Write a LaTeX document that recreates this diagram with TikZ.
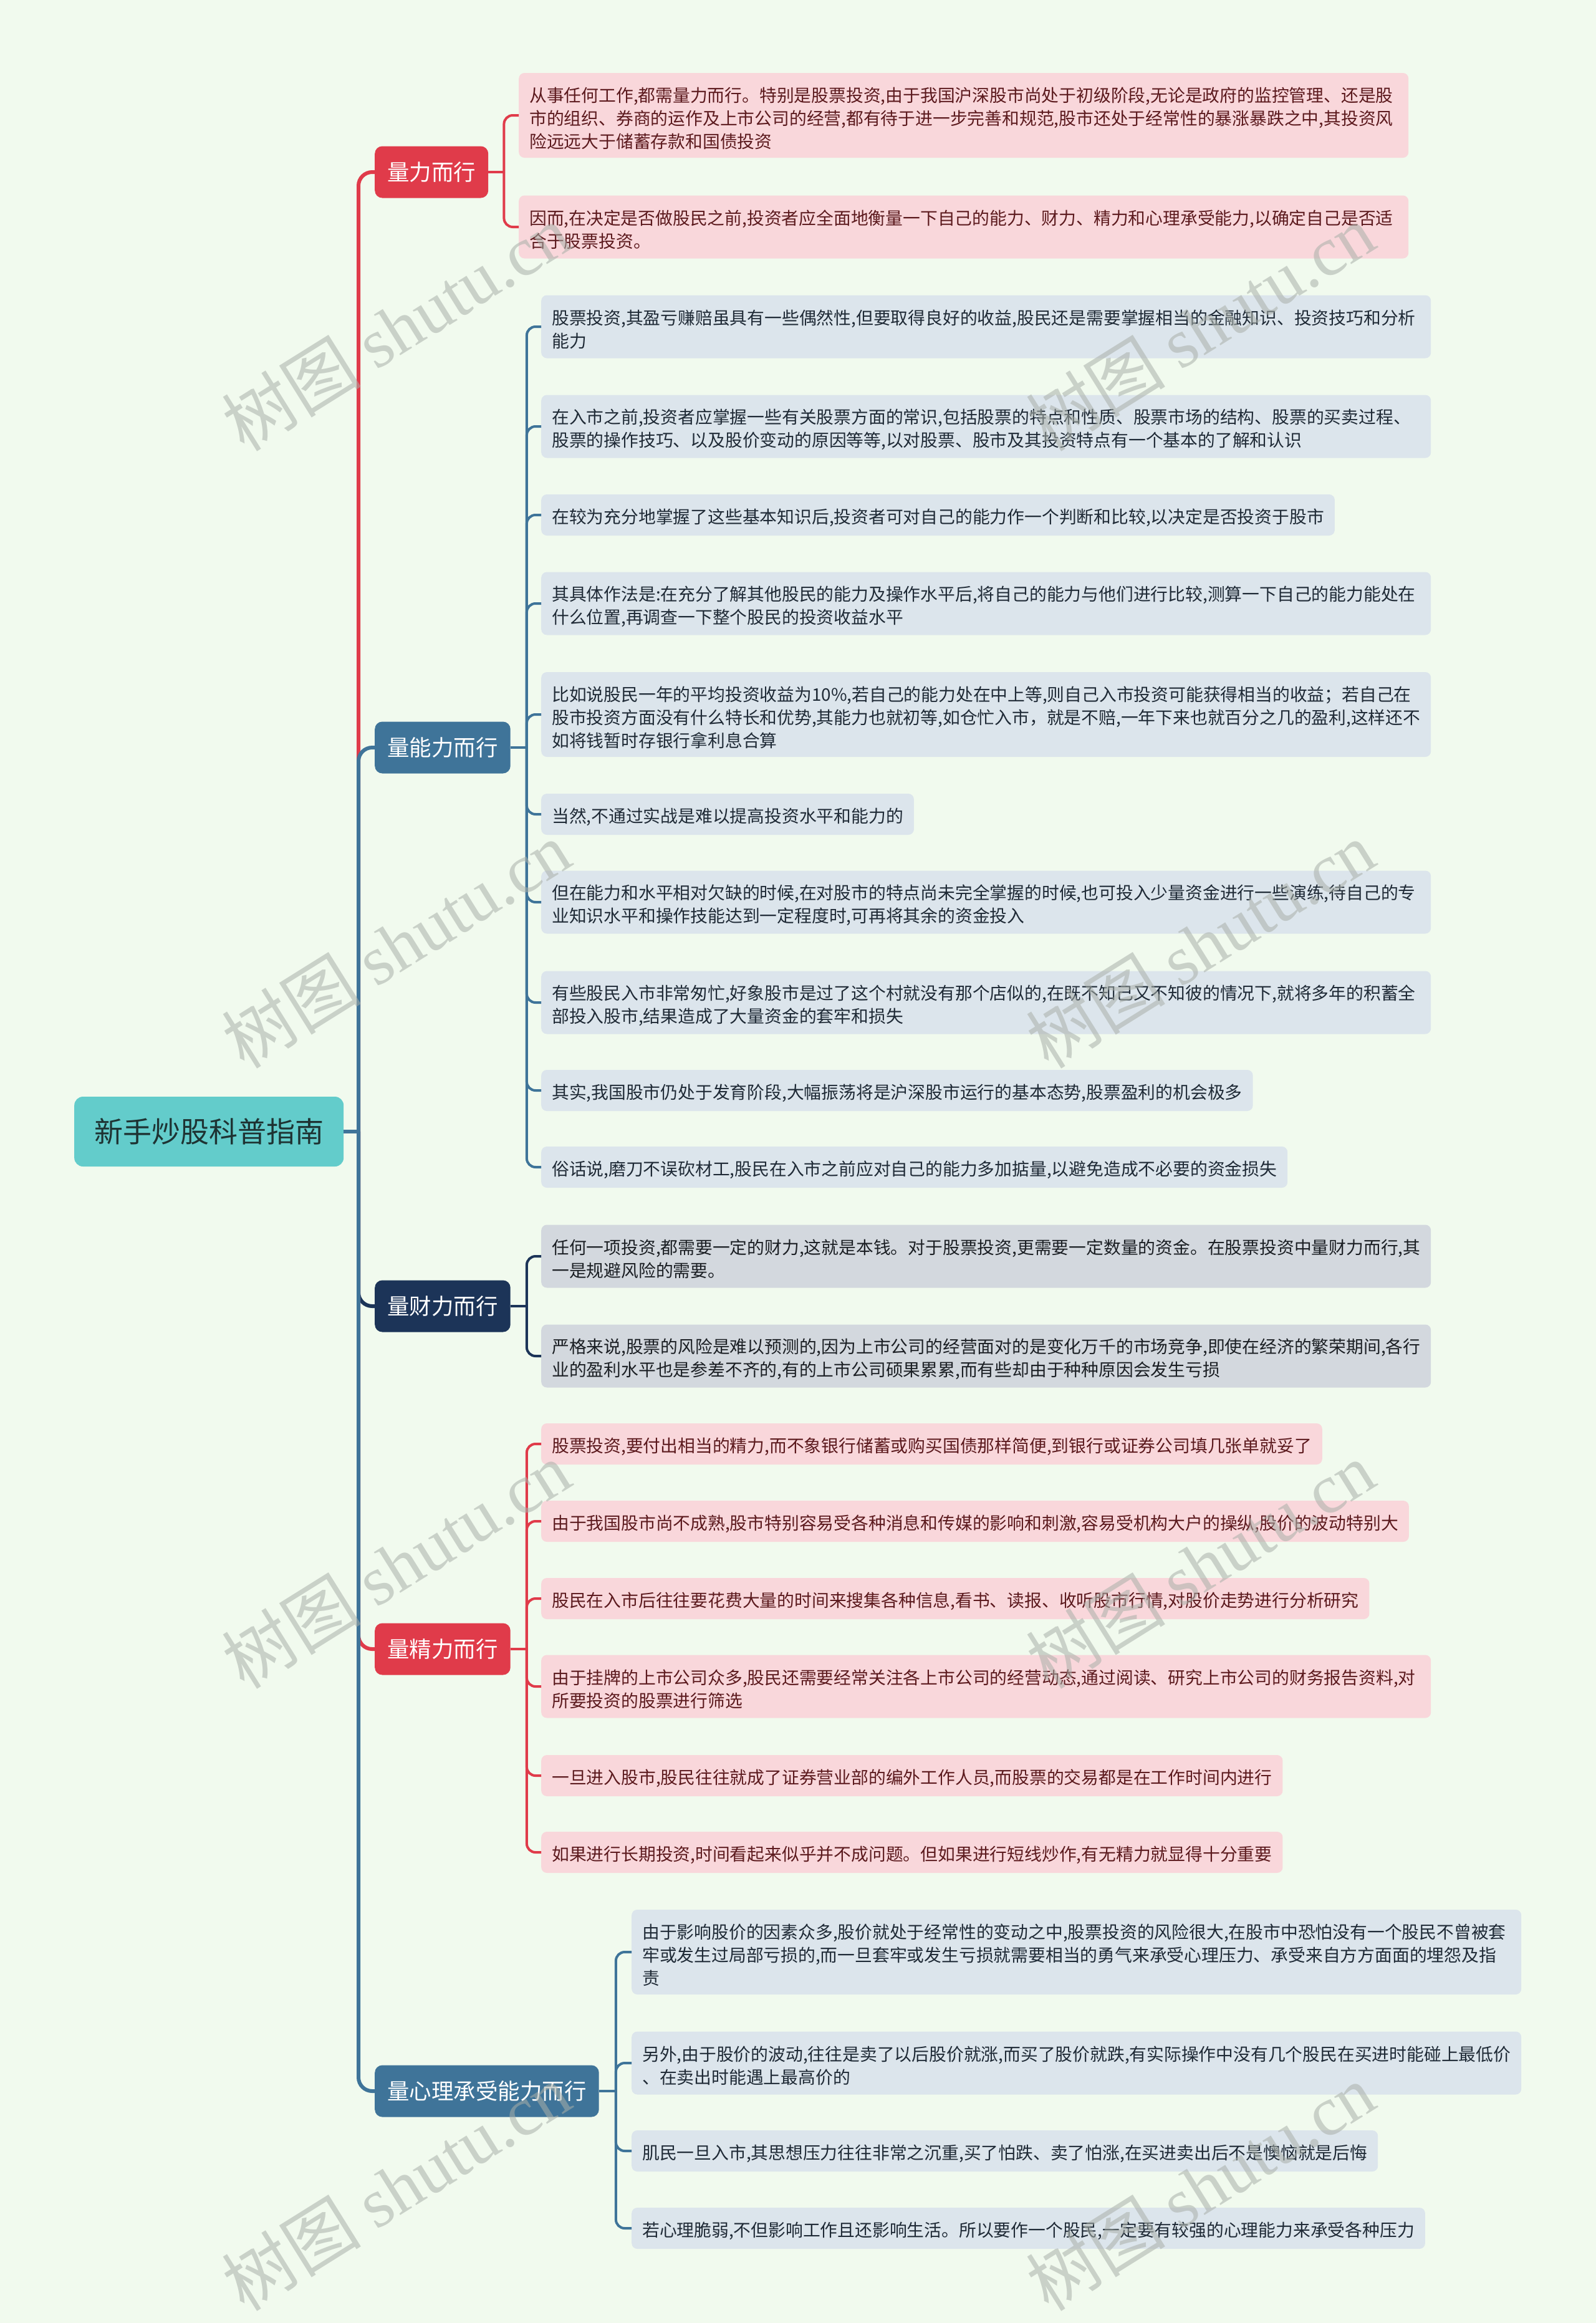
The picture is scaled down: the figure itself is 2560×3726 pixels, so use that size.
\documentclass[tikz,border=0pt]{standalone}
\usepackage{fontspec}
\setmainfont{Noto Sans CJK SC}
\newfontfamily\wmlatin{Liberation Serif}
\usetikzlibrary{calc}
\definecolor{bgc}{HTML}{F1FAEE}
\definecolor{cred}{HTML}{E03B4A}
\definecolor{cblue}{HTML}{3F7499}
\definecolor{cnavy}{HTML}{1C3458}
\definecolor{rootfill}{HTML}{63CCCB}
\definecolor{roottext}{HTML}{1E3333}
\definecolor{pinkfill}{HTML}{F9D7DB}
\definecolor{pinktext}{HTML}{5C1A1E}
\definecolor{bluefill}{HTML}{DCE5EC}
\definecolor{bluetext}{HTML}{1F2A36}
\definecolor{grayfill}{HTML}{D3D8DE}
\definecolor{graytext}{HTML}{1B1F24}
\definecolor{wmc}{HTML}{A9B0A9}
\tikzset{
  leafbase/.style={rounded corners=9bp, inner xsep=17bp, inner ysep=0bp, anchor=west, align=left, font=\fontsize{27.8bp}{37bp}\selectfont, execute at begin node={\rule{0pt}{33bp}}},
  pinkleaf/.style={leafbase, fill=pinkfill, text=pinktext},
  blueleaf/.style={leafbase, fill=bluefill, text=bluetext},
  grayleaf/.style={leafbase, fill=grayfill, text=graytext},
  wide/.style={text width=1393bp},
  hone/.style={minimum height=66bp},
  htwo/.style={minimum height=101bp},
  hthree/.style={minimum height=136bp},
  branchbox/.style={rounded corners=12bp, inner xsep=20bp, inner ysep=0bp, minimum height=83bp, anchor=west, text=white, font=\fontsize{35.5bp}{40bp}\selectfont},
  rootbox/.style={rounded corners=14bp, fill=rootfill, text=roottext, minimum width=432bp, minimum height=112bp, anchor=west, font=\fontsize{46bp}{52bp}\selectfont},
  trunk/.style={line width=6bp, rounded corners=22bp},
  twig/.style={line width=4bp, rounded corners=14bp},
  wm/.style={text=wmc, opacity=0.55, rotate=32, font=\fontsize{112bp}{120bp}\selectfont}
}
\begin{document}
\begin{tikzpicture}[x=1bp,y=-1bp]
\fill[bgc] (0,0) rectangle (2560,3726);
\useasboundingbox (0,0) rectangle (2560,3726);

% root and branches
\node[rootbox] (root) at (119,1815) {新手炒股科普指南};
\node[branchbox, fill=cred] (b1) at (601,276) {量力而行};
\node[branchbox, fill=cblue] (b2) at (601,1199) {量能力而行};
\node[branchbox, fill=cnavy] (b3) at (601,2095) {量财力而行};
\node[branchbox, fill=cred] (b4) at (601,2645) {量精力而行};
\node[branchbox, fill=cblue] (b5) at (601,3354) {量心理承受能力而行};

% branch 1 leaves
\node[pinkleaf, wide, hthree] (l11) at (832,185) {从事任何工作,都需量力而行。特别是股票投资,由于我国沪深股市尚处于初级阶段,无论是政府的监控管理、还是股\\市的组织、券商的运作及上市公司的经营,都有待于进一步完善和规范,股市还处于经常性的暴涨暴跌之中,其投资风\\险远远大于储蓄存款和国债投资};
\node[pinkleaf, wide, htwo] (l12) at (832,364) {因而,在决定是否做股民之前,投资者应全面地衡量一下自己的能力、财力、精力和心理承受能力,以确定自己是否适\\合于股票投资。};

% branch 2 leaves
\node[blueleaf, wide, htwo] (l21) at (868,524) {股票投资,其盈亏赚赔虽具有一些偶然性,但要取得良好的收益,股民还是需要掌握相当的金融知识、投资技巧和分析\\能力};
\node[blueleaf, wide, htwo] (l22) at (868,684) {在入市之前,投资者应掌握一些有关股票方面的常识,包括股票的特点和性质、股票市场的结构、股票的买卖过程、\\股票的操作技巧、以及股价变动的原因等等,以对股票、股市及其投资特点有一个基本的了解和认识};
\node[blueleaf, hone] (l23) at (868,826) {在较为充分地掌握了这些基本知识后,投资者可对自己的能力作一个判断和比较,以决定是否投资于股市};
\node[blueleaf, wide, htwo] (l24) at (868,968) {其具体作法是:在充分了解其他股民的能力及操作水平后,将自己的能力与他们进行比较,测算一下自己的能力能处在\\什么位置,再调查一下整个股民的投资收益水平};
\node[blueleaf, wide, hthree] (l25) at (868,1146) {比如说股民一年的平均投资收益为10\%,若自己的能力处在中上等,则自己入市投资可能获得相当的收益；若自己在\\股市投资方面没有什么特长和优势,其能力也就初等,如仓忙入市，就是不赔,一年下来也就百分之几的盈利,这样还不\\如将钱暂时存银行拿利息合算};
\node[blueleaf, hone] (l26) at (868,1306) {当然,不通过实战是难以提高投资水平和能力的};
\node[blueleaf, wide, htwo] (l27) at (868,1447) {但在能力和水平相对欠缺的时候,在对股市的特点尚未完全掌握的时候,也可投入少量资金进行一些演练,待自己的专\\业知识水平和操作技能达到一定程度时,可再将其余的资金投入};
\node[blueleaf, wide, htwo] (l28) at (868,1608) {有些股民入市非常匆忙,好象股市是过了这个村就没有那个店似的,在既不知己又不知彼的情况下,就将多年的积蓄全\\部投入股市,结果造成了大量资金的套牢和损失};
\node[blueleaf, hone] (l29) at (868,1749) {其实,我国股市仍处于发育阶段,大幅振荡将是沪深股市运行的基本态势,股票盈利的机会极多};
\node[blueleaf, hone] (l210) at (868,1872) {俗话说,磨刀不误砍材工,股民在入市之前应对自己的能力多加掂量,以避免造成不必要的资金损失};

% branch 3 leaves
\node[grayleaf, wide, htwo] (l31) at (868,2015) {任何一项投资,都需要一定的财力,这就是本钱。对于股票投资,更需要一定数量的资金。在股票投资中量财力而行,其\\一是规避风险的需要。};
\node[grayleaf, wide, htwo] (l32) at (868,2175) {严格来说,股票的风险是难以预测的,因为上市公司的经营面对的是变化万千的市场竞争,即使在经济的繁荣期间,各行\\业的盈利水平也是参差不齐的,有的上市公司硕果累累,而有些却由于种种原因会发生亏损};

% branch 4 leaves
\node[pinkleaf, hone] (l41) at (868,2316) {股票投资,要付出相当的精力,而不象银行储蓄或购买国债那样简便,到银行或证券公司填几张单就妥了};
\node[pinkleaf, hone] (l42) at (868,2440) {由于我国股市尚不成熟,股市特别容易受各种消息和传媒的影响和刺激,容易受机构大户的操纵,股价的波动特别大};
\node[pinkleaf, hone] (l43) at (868,2564) {股民在入市后往往要花费大量的时间来搜集各种信息,看书、读报、收听股市行情,对股价走势进行分析研究};
\node[pinkleaf, wide, htwo] (l44) at (868,2705) {由于挂牌的上市公司众多,股民还需要经常关注各上市公司的经营动态,通过阅读、研究上市公司的财务报告资料,对\\所要投资的股票进行筛选};
\node[pinkleaf, hone] (l45) at (868,2848) {一旦进入股市,股民往往就成了证券营业部的编外工作人员,而股票的交易都是在工作时间内进行};
\node[pinkleaf, hone] (l46) at (868,2971) {如果进行长期投资,时间看起来似乎并不成问题。但如果进行短线炒作,有无精力就显得十分重要};

% branch 5 leaves
\node[blueleaf, wide, hthree] (l51) at (1013,3131) {由于影响股价的因素众多,股价就处于经常性的变动之中,股票投资的风险很大,在股市中恐怕没有一个股民不曾被套\\牢或发生过局部亏损的,而一旦套牢或发生亏损就需要相当的勇气来承受心理压力、承受来自方方面面的埋怨及指\\责};
\node[blueleaf, wide, htwo] (l52) at (1013,3309) {另外,由于股价的波动,往往是卖了以后股价就涨,而买了股价就跌,有实际操作中没有几个股民在买进时能碰上最低价\\、在卖出时能遇上最高价的};
\node[blueleaf, hone] (l53) at (1013,3450) {肌民一旦入市,其思想压力往往非常之沉重,买了怕跌、卖了怕涨,在买进卖出后不是懊恼就是后悔};
\node[blueleaf, hone] (l54) at (1013,3574) {若心理脆弱,不但影响工作且还影响生活。所以要作一个股民,一定要有较强的心理能力来承受各种压力};

% trunk connectors
\coordinate (tj) at (575,1815);
\draw[trunk, cblue] (root.east) -- (tj);
\draw[trunk, cred] (tj) |- (b1.west);
\draw[trunk, cblue] (tj) |- (b2.west);
\draw[trunk, cnavy] (tj) |- (b3.west);
\draw[trunk, cred] (tj) |- (b4.west);
\draw[trunk, cblue] (tj) |- (b5.west);

% leaf connectors
\coordinate (j1) at ($(b1.east)+(25,0)$);
\coordinate (j2) at ($(b2.east)+(26,0)$);
\coordinate (j3) at ($(b3.east)+(26,0)$);
\coordinate (j4) at ($(b4.east)+(26,0)$);
\coordinate (j5) at ($(b5.east)+(27,0)$);
\draw[twig, cred] (b1.east) -- (j1);
\foreach \n in {l11,l12} \draw[twig, cred] (j1) |- (\n.west);
\draw[twig, cblue] (b2.east) -- (j2);
\foreach \n in {l21,l22,l23,l24,l25,l26,l27,l28,l29,l210} \draw[twig, cblue] (j2) |- (\n.west);
\draw[twig, cnavy] (b3.east) -- (j3);
\foreach \n in {l31,l32} \draw[twig, cnavy] (j3) |- (\n.west);
\draw[twig, cred] (b4.east) -- (j4);
\foreach \n in {l41,l42,l43,l44,l45,l46} \draw[twig, cred] (j4) |- (\n.west);
\draw[twig, cblue] (b5.east) -- (j5);
\foreach \n in {l51,l52,l53,l54} \draw[twig, cblue] (j5) |- (\n.west);

% watermarks
\foreach \px/\py [count=\i] in {635/525, 635/1515, 635/2510, 635/3508, 1925/525, 1925/1515, 1925/2510, 1925/3508}
  \node[wm] (wm\i) at (\px,\py) {树图 {\wmlatin shutu.cn}};
\end{tikzpicture}
\end{document}
